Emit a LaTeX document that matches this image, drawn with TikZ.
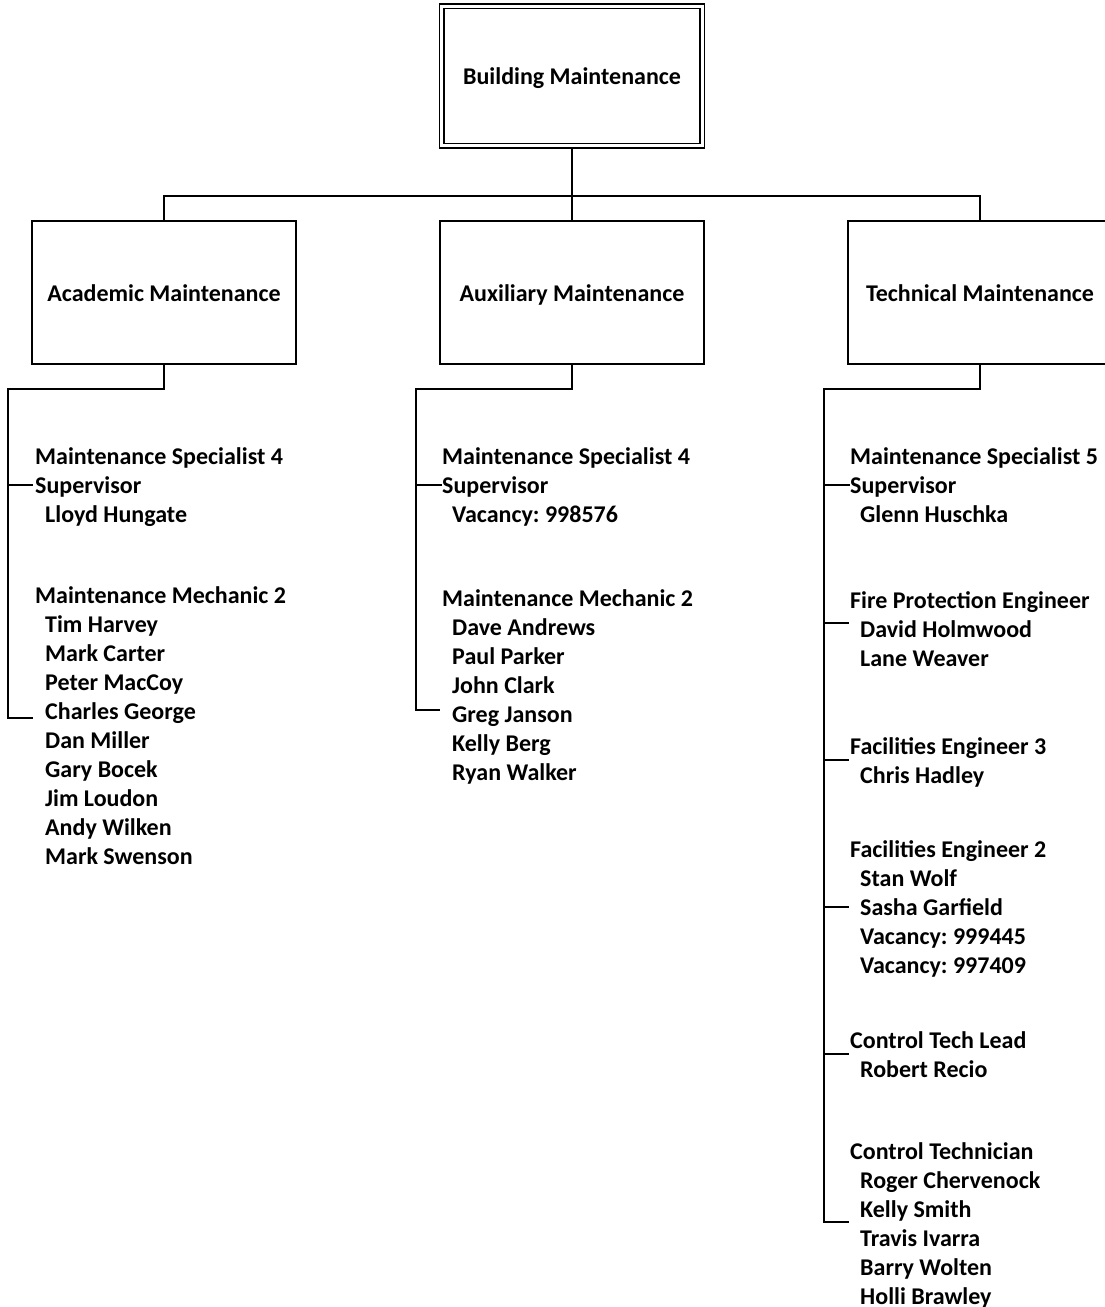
\documentclass[tikz,border=0pt]{standalone}
\usepackage{fontspec}
\setmainfont{Carlito}
\frenchspacing
\newcommand{\lines}[1]{\begin{tabular}[t]{@{}l@{}}#1\end{tabular}}
\begin{document}
\begin{tikzpicture}[x=1pt,y=-1pt,
  every node/.style={font=\bfseries\fontsize{24}{29}\selectfont\frenchspacing, inner sep=0pt},
  unitbox/.style={draw, line width=1.3pt, minimum width=264pt, minimum height=143pt, text height=22pt, text depth=5pt},
  grp/.style={anchor=base west},
  conn/.style={line width=1.5pt},
  thick spine/.style={line width=2pt}]
\useasboundingbox (0,0) rectangle (1104,1307);
% top box
\node[draw, line width=1.3pt, minimum width=265pt, minimum height=144pt] (topouter) at (572,76) {};
\node[draw, line width=1.3pt, minimum width=256pt, minimum height=135pt, text height=22pt, text depth=5pt] (top) at (572,76) {Building Maintenance};
% unit boxes
\node[unitbox] (acad) at (164,292.5) {Academic Maintenance};
\node[unitbox] (aux)  at (572,292.5) {Auxiliary Maintenance};
\node[unitbox] (tech) at (980,292.5) {Technical Maintenance};
% top connectors
\coordinate (bus) at (572,196);
\draw[conn] (topouter.south) -- (bus);
\draw[conn] (acad.north) |- (bus) -| (tech.north);
\draw[conn] (bus) -- (aux.north);
% ---------------- Academic ----------------
\def\ind{\hspace*{10pt}}
\node[grp] (a1) at (35,464) {\lines{Maintenance Specialist 4\\Supervisor\\\ind Lloyd Hungate}};
\node[grp] (a2) at (35,603) {\lines{Maintenance Mechanic 2\\\ind Tim Harvey\\\ind Mark Carter\\\ind Peter MacCoy\\\ind Charles George\\\ind Dan Miller\\\ind Gary Bocek\\\ind Jim Loudon\\\ind Andy Wilken\\\ind Mark Swenson}};
\coordinate (as1) at (33,485);
\coordinate (as2) at (33,718);
\draw[conn] (acad.south) |- (8,389) |- (as2);
\draw[conn] (8,485) -- (as1);
% ---------------- Auxiliary ----------------
\node[grp] (b1) at (442,464) {\lines{Maintenance Specialist 4\\Supervisor\\\ind Vacancy: 998576}};
\node[grp] (b2) at (442,606) {\lines{Maintenance Mechanic 2\\\ind Dave Andrews\\\ind Paul Parker\\\ind John Clark\\\ind Greg Janson\\\ind Kelly Berg\\\ind Ryan Walker}};
\coordinate (bs1) at (442,485);
\coordinate (bs2) at (440,710);
\draw[conn] (aux.south) |- (416,389) |- (bs2);
\draw[conn] (416,485) -- (bs1);
% ---------------- Technical ----------------
\node[grp] (c1) at (850,464) {\lines{Maintenance Specialist 5\\Supervisor\\\ind Glenn Huschka}};
\node[grp] (c2) at (850,608) {\lines{Fire Protection Engineer\\\ind David Holmwood\\\ind Lane Weaver}};
\node[grp] (c3) at (850,754) {\lines{Facilities Engineer 3\\\ind Chris Hadley}};
\node[grp] (c4) at (850,857) {\lines{Facilities Engineer 2\\\ind Stan Wolf\\\ind Sasha Garfield\\\ind Vacancy: 999445\\\ind Vacancy: 997409}};
\node[grp] (c5) at (850,1048) {\lines{Control Tech Lead\\\ind Robert Recio}};
\node[grp] (c6) at (850,1159) {\lines{Control Technician\\\ind Roger Chervenock\\\ind Kelly Smith\\\ind Travis Ivarra\\\ind Barry Wolten\\\ind Holli Brawley}};
\coordinate (cs1) at (850,485);
\coordinate (cs2) at (849,623);
\coordinate (cs3) at (849,760);
\coordinate (cs4) at (849,907);
\coordinate (cs5) at (849,1054);
\coordinate (cs6) at (849,1222);
\draw[thick spine] (tech.south) |- (824,389) |- (cs6);
\draw[conn] (824,485) -- (cs1);
\draw[conn] (824,623) -- (cs2);
\draw[conn] (824,760) -- (cs3);
\draw[conn] (824,907) -- (cs4);
\draw[conn] (824,1054) -- (cs5);
\end{tikzpicture}
\end{document}
